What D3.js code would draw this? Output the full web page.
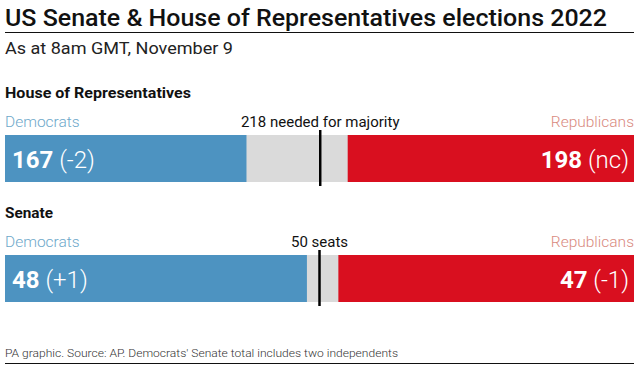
<!DOCTYPE html>
<html>
<head>
<meta charset="utf-8">
<script src="https://cdn.jsdelivr.net/npm/d3@7"></script>
<style>
  body { margin: 0; background: #fff; }
  svg { display: block; font-family: Roboto, "Noto Sans", sans-serif; }
</style>
</head>
<body>
<div id="chart"></div>
<script>
// chart values
const chambers = ["House of Representatives", "Senate"];
const totalSeats = [435, 100];
const demSeats = [167, 48];
const demChange = ["-2", "+1"];
const repSeats = [198, 47];
const repChange = ["nc", "-1"];
const majority = [218, 50];
const majorityLabels = ["218 needed for majority", "50 seats"];

let width = 640, height = 372;
let left = 5, right = 634;
let blue = "#4d93c1", red = "#d90f1f", grey = "#dadada";

let svg = d3.select("#chart").append("svg")
  .attr("width", width)
  .attr("height", height);

// title + rule
svg.append("text")
  .attr("x", left).attr("y", 26)
  .attr("font-size", 23).attr("font-weight", 500)
  .attr("textLength", 602).attr("lengthAdjust", "spacingAndGlyphs")
  .style("fill", "#111")
  .text("US Senate & House of Representatives elections 2022");

svg.append("line")
  .attr("x1", left).attr("x2", right)
  .attr("y1", 32.5).attr("y2", 32.5)
  .attr("stroke", "#111").attr("stroke-width", 1.2);

svg.append("text")
  .attr("x", left).attr("y", 54)
  .attr("font-size", 16).attr("font-weight", 400)
  .attr("textLength", 228).attr("lengthAdjust", "spacingAndGlyphs")
  .style("fill", "#222")
  .text("As at 8am GMT, November 9");

// one block per chamber
let blockTop = [98, 218];   // baseline of chamber heading
let headingWidth = [186, 48];

chambers.forEach(function(name, i) {
  let g = svg.append("g").attr("transform", "translate(0," + blockTop[i] + ")");
  let x = d3.scaleLinear().domain([0, totalSeats[i]]).range([left, right]);
  let barY = 37, barH = 47;

  g.append("text")
    .attr("x", left).attr("y", 0)
    .attr("font-size", 15.5).attr("font-weight", 700)
    .attr("textLength", headingWidth[i]).attr("lengthAdjust", "spacingAndGlyphs")
    .style("fill", "#111")
    .text(name);

  g.append("text")
    .attr("x", left).attr("y", 29)
    .attr("font-size", 15.5).attr("font-weight", 300)
    .style("fill", "#6ea8ca")
    .text("Democrats");

  g.append("text")
    .attr("x", right).attr("y", 29)
    .attr("text-anchor", "end")
    .attr("font-size", 15.5).attr("font-weight", 300)
    .style("fill", "#d98a80")
    .text("Republicans");

  g.append("text")
    .attr("x", x(majority[i])).attr("y", 29)
    .attr("text-anchor", "middle")
    .attr("font-size", 15).attr("font-weight", 400)
    .style("fill", "#111")
    .text(majorityLabels[i]);

  // grey background = seats not yet called
  g.append("rect")
    .attr("x", x(0)).attr("y", barY)
    .attr("width", x(totalSeats[i]) - x(0)).attr("height", barH)
    .attr("fill", grey);

  g.append("rect")
    .attr("x", x(0)).attr("y", barY)
    .attr("width", x(demSeats[i]) - x(0)).attr("height", barH)
    .attr("fill", blue);

  g.append("rect")
    .attr("x", x(totalSeats[i] - repSeats[i])).attr("y", barY)
    .attr("width", x(totalSeats[i]) - x(totalSeats[i] - repSeats[i])).attr("height", barH)
    .attr("fill", red);

  g.append("line")
    .attr("x1", x(majority[i])).attr("x2", x(majority[i]))
    .attr("y1", barY - 5).attr("y2", barY + barH + 4)
    .attr("stroke", "#000").attr("stroke-width", 2.5);

  let dem = g.append("text")
    .attr("x", x(0) + 7).attr("y", barY + 33)
    .attr("font-size", 24)
    .style("fill", "#fff");
  dem.append("tspan").attr("font-weight", 700).text(demSeats[i]);
  dem.append("tspan").attr("font-weight", 300).text(" (" + demChange[i] + ")");

  let rep = g.append("text")
    .attr("x", x(totalSeats[i]) - 5).attr("y", barY + 33)
    .attr("text-anchor", "end")
    .attr("font-size", 24)
    .style("fill", "#fff");
  rep.append("tspan").attr("font-weight", 700).text(repSeats[i]);
  rep.append("tspan").attr("font-weight", 300).text(" (" + repChange[i] + ")");
});

// footer
svg.append("text")
  .attr("x", left).attr("y", 357)
  .attr("font-size", 11.5).attr("font-weight", 300)
  .attr("textLength", 393).attr("lengthAdjust", "spacingAndGlyphs")
  .style("fill", "#333")
  .text("PA graphic.  Source: AP. Democrats' Senate total includes two independents");

svg.append("line")
  .attr("x1", left).attr("x2", right)
  .attr("y1", 363.5).attr("y2", 363.5)
  .attr("stroke", "#111").attr("stroke-width", 1.2);
</script>
</body>
</html>
